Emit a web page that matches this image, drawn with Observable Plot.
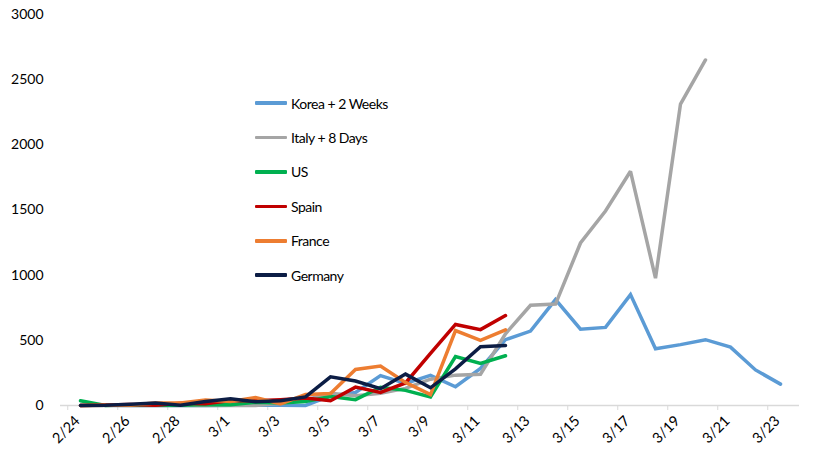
<!DOCTYPE html>
<html>
<head>
<meta charset="utf-8">
<script src="https://cdn.jsdelivr.net/npm/d3@7"></script>
<script src="https://cdn.jsdelivr.net/npm/@observablehq/plot@0.6"></script>
<style>
  html, body { margin: 0; padding: 0; background: #fff; }
  #wrap { position: relative; width: 817px; height: 452px; font-family: Lato, "Open Sans", sans-serif; }
  #legend { position: absolute; left: 255px; top: 86px; }
  .lg-row { display: flex; align-items: center; height: 34.4px; font-size: 14px; letter-spacing: -0.5px; color: #000; }
  .lg-sw { width: 32px; height: 3.5px; margin-right: 4px; border-radius: 1px; }
</style>
</head>
<body>
<div id="wrap"><div id="legend"></div></div>
<script>
const dates = ["2/24","2/25","2/26","2/27","2/28","2/29","3/1","3/2","3/3","3/4","3/5","3/6","3/7","3/8","3/9","3/10","3/11","3/12","3/13","3/14","3/15","3/16","3/17","3/18","3/19","3/20","3/21","3/22","3/23"];
const tickDates = ["2/24","2/26","2/28","3/1","3/3","3/5","3/7","3/9","3/11","3/13","3/15","3/17","3/19","3/21","3/23"];
const yTicks = [0, 500, 1000, 1500, 2000, 2500, 3000];

const seriesNames = ["Korea + 2 Weeks", "Italy + 8 Days", "US", "Spain", "France", "Germany"];
const seriesColors = ["#5b9bd5", "#a5a5a5", "#00b050", "#c00000", "#ed7d31", "#0c1d45"];

const korea   = [2, 1, 0, 0, 0, 0, 1, 1, 1, 0, 73, 100, 229, 169, 231, 144, 284, 505, 571, 813, 586, 599, 851, 435, 467, 505, 448, 273, 164];
const italy   = [0, 0, 0, 0, 0, 0, 0, 0, 17, 42, 93, 74, 93, 131, 202, 233, 240, 550, 769, 778, 1247, 1492, 1797, 977, 2313, 2651, null, null, null];
const us      = [36, 0, 6, 1, 2, 8, 6, 24, 20, 31, 68, 45, 140, 116, 65, 376, 322, 382, null, null, null, null, null, null, null, null, null, null, null];
const spain   = [0, 4, 7, 2, 17, 13, 39, 36, 45, 57, 37, 141, 100, 173, 400, 622, 582, 690, null, null, null, null, null, null, null, null, null, null, null];
const france  = [0, 2, 4, 20, 19, 43, 30, 61, 13, 84, 92, 276, 303, 177, 83, 575, 499, 580, null, null, null, null, null, null, null, null, null, null, null];
const germany = [0, 1, 10, 19, 2, 31, 51, 29, 37, 66, 220, 188, 129, 241, 136, 281, 451, 460, null, null, null, null, null, null, null, null, null, null, null];

const seriesValues = [korea, italy, us, spain, france, germany];
const rows = [];
seriesValues.forEach((vals, s) => {
  vals.forEach((v, i) => {
    if (v != null) rows.push({series: seriesNames[s], date: dates[i], value: v});
  });
});

const W = 817, H = 452, mL = 60, mR = 18;
const step = (W - mL - mR) / dates.length;

const chart = Plot.plot({
  width: W, height: H,
  marginLeft: mL, marginRight: mR, marginTop: 14, marginBottom: 47,
  style: {fontFamily: "Lato, 'Open Sans', sans-serif", fontSize: "14px", color: "#000", background: "#fff", overflow: "visible"},
  x: {type: "point", domain: dates, padding: 0.5},
  y: {domain: [0, 3000]},
  color: {domain: seriesNames, range: seriesColors},
  marks: [
    Plot.axisY({ticks: yTicks, tickSize: 0, tickPadding: 17, tickFormat: d => String(d), label: null, fill: "#000"}),
    Plot.ruleY([0], {stroke: "#d9d9d9", strokeWidth: 1.5}),
    Plot.axisX({ticks: tickDates, tickSize: 5, tickFormat: () => "", dx: -step / 2, stroke: "#d9d9d9", strokeOpacity: 1, label: null}),
    Plot.axisX({ticks: tickDates, tickSize: 0, tickRotate: -45, tickPadding: 13, dx: -3, label: null, fill: "#000", fontSize: 14.5}),
    Plot.line(rows, {x: "date", y: "value", z: "series", stroke: "series", strokeWidth: 3.5, strokeLinejoin: "miter", strokeMiterlimit: 2})
  ]
});
const wrap = document.getElementById("wrap");
wrap.insertBefore(chart, wrap.firstChild);

const legend = document.getElementById("legend");
seriesNames.forEach((name, i) => {
  const row = document.createElement("div");
  row.className = "lg-row";
  const sw = document.createElement("div");
  sw.className = "lg-sw";
  sw.style.background = seriesColors[i];
  const t = document.createElement("span");
  t.textContent = name;
  row.appendChild(sw); row.appendChild(t);
  legend.appendChild(row);
});
</script>
</body>
</html>
